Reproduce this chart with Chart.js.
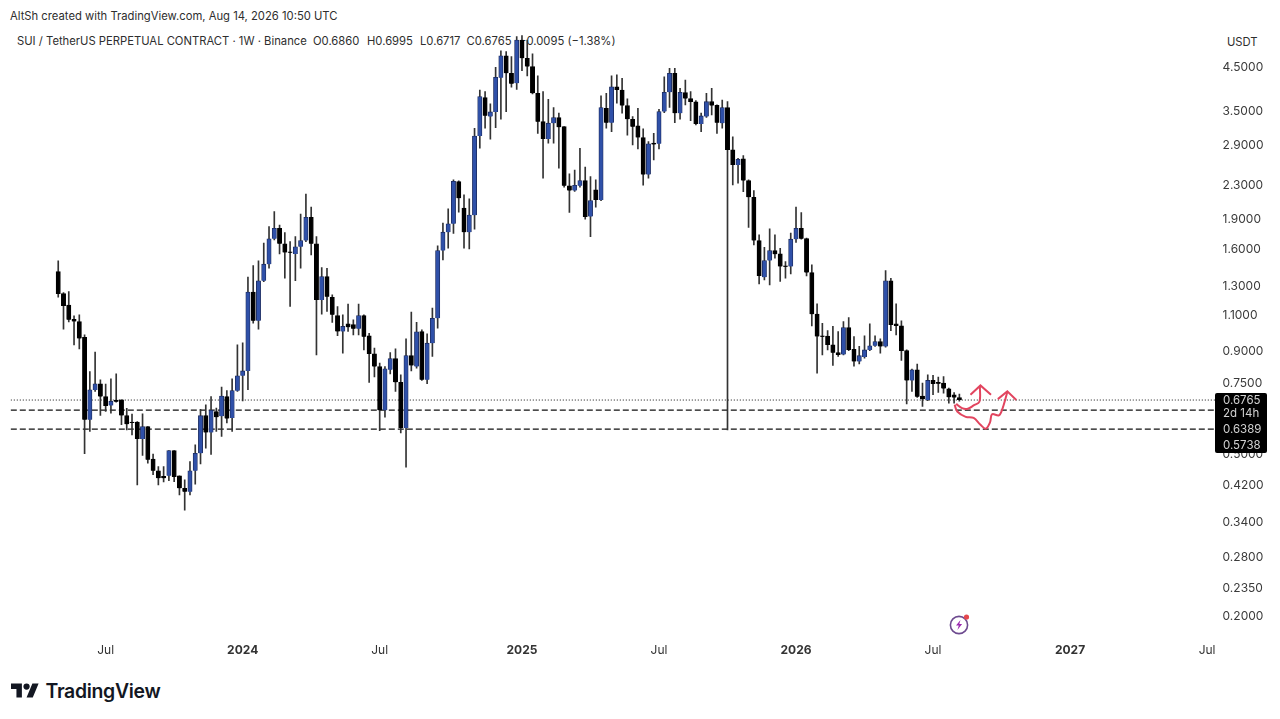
<!DOCTYPE html>
<html><head><meta charset="utf-8">
<style>
html,body{margin:0;padding:0;background:#fff;width:1280px;height:719px;overflow:hidden;font-family:Inter,"Noto Sans",sans-serif}
.t{position:absolute;white-space:pre;color:#2e2e2e;font-size:11.25px;line-height:14px}
#c{position:absolute;left:0;top:0;z-index:2}
#block{position:absolute;left:1215px;top:393px;width:52px;height:60px;background:#000;border-radius:2px;z-index:3}
.p{position:absolute;left:1223px;color:#d2d2d2;font-size:11.5px;line-height:14px;z-index:4;white-space:pre}
svg{position:absolute;z-index:3}
</style></head><body>
<div class="t" style="left:10px;top:8.5px">AltSh created with TradingView.com, Aug 14, 2026 10:50 UTC</div>
<div class="t" style="left:17px;top:33.5px">SUI / TetherUS PERPETUAL CONTRACT · 1W · Binance</div>
<div class="t" style="left:313px;top:33.5px">O0.6860</div>
<div class="t" style="left:367px;top:33.5px">H0.6995</div>
<div class="t" style="left:420px;top:33.5px">L0.6717</div>
<div class="t" style="left:466.5px;top:33.5px">C0.6765</div>
<div class="t" style="left:519px;top:33.5px">−0.0095 (−1.38%)</div>
<div class="t" style="left:1227px;top:34.5px">USDT</div>
<canvas id="c" width="1280" height="719"></canvas>
<div id="block"></div>
<div class="p" style="top:393px">0.6765</div>
<div class="p" style="top:406px">2d 14h</div>
<div class="p" style="top:422px">0.6389</div>
<div class="p" style="top:438px">0.5738</div>
<svg style="left:11px;top:683px" width="28" height="15" viewBox="0 3.5 36 19"><path fill="#131722" d="M14 22H7V11H0V4h14v18zM28 22h-8l7.5-18h8L28 22z"/><circle fill="#131722" cx="20" cy="8" r="4"/></svg>
<div class="t" style="left:45.5px;top:679px;font-size:19.4px;line-height:24px;font-weight:600;color:#131722;letter-spacing:-.3px">TradingView</div>
<svg style="left:947px;top:612px" width="26" height="26" viewBox="0 0 26 26"><circle cx="12" cy="13" r="8.6" fill="none" stroke="#6d4a8f" stroke-width="1.6"/><path d="M13.5 8L9 13.6h2.8L10.4 18l4.7-6h-2.8z" fill="#9c27b0"/><circle cx="19.5" cy="5" r="2.6" fill="#e5484d"/></svg>
<script src="https://cdn.jsdelivr.net/npm/chart.js@4/dist/chart.umd.min.js"></script>
<script>
const opens=[1.402,1.238,1.159,1.070,1.056,.965,.605,.716,.742,.690,
.656,.676,.677,.619,.597,.597,.542,.582,.484,.453,
.439,.440,.508,.440,.410,.402,.453,.500,.619,.563,
.634,.617,.690,.611,.713,.776,.798,1.248,1.060,1.330,
1.462,1.688,1.793,1.642,1.568,1.550,1.614,1.672,1.908,1.642,
1.194,1.363,1.211,1.092,.998,1.043,1.038,1.013,1.092,.974,
.879,.818,.638,.803,.856,.748,.577,.871,.818,.998,
.759,.934,1.076,1.579,1.753,1.838,2.336,2.009,1.753,1.933,
3.025,3.761,3.378,3.468,4.211,4.765,4.319,4.083,5.215,4.702,
4.484,3.856,3.282,2.975,3.253,3.358,3.19,2.28,2.22,2.28,
2.349,1.915,2.228,2.105,3.54,3.263,4.0,3.928,3.594,3.326,
3.204,3.0,2.43,2.904,2.893,3.474,3.878,4.319,3.443,3.87,
3.74,3.67,3.24,3.378,3.675,3.60,3.253,3.556,2.795,2.568,
2.656,2.349,2.137,1.672,1.358,1.492,1.579,1.55,1.446,1.443,
1.685,1.793,1.69,1.394,1.101,.972,.972,.925,.885,.876,
1.02,.902,.842,.864,.899,.92,.943,.917,1.331,1.043,
1.03,.895,.756,.803,.692,.677,.756,.748,.745,.721,
.697,.686];
const closes=[1.234,1.154,1.066,1.056,.959,.605,.717,.742,.690,.654,
.672,.670,.620,.590,.594,.542,.582,.482,.453,.434,
.434,.508,.437,.410,.402,.453,.500,.619,.563,.638,
.614,.692,.609,.714,.776,.798,1.248,1.060,1.330,1.462,
1.688,1.793,1.642,1.562,1.559,1.614,1.672,1.908,1.642,1.194,
1.363,1.216,1.097,.998,1.027,1.023,1.013,1.092,.968,.879,
.818,.638,.808,.856,.748,.577,.871,.823,.996,.759,
.934,1.076,1.579,1.753,1.838,2.34,2.126,1.753,1.933,3.025,
3.783,3.391,3.468,4.222,4.765,4.319,4.066,5.215,4.702,4.484,
3.856,3.282,2.975,3.253,3.358,3.179,2.28,2.22,2.286,2.349,
1.915,2.097,2.105,3.556,3.263,4.0,3.928,3.594,3.326,3.19,
3.0,2.43,2.893,2.887,3.474,3.878,4.319,3.443,3.878,3.74,
3.67,3.24,3.39,3.675,3.594,3.263,3.556,2.795,2.568,2.651,
2.349,2.137,1.672,1.368,1.492,1.579,1.547,1.443,1.44,1.685,
1.793,1.69,1.394,1.101,.970,.968,.925,.885,.874,1.02,
.899,.842,.87,.899,.92,.943,.917,1.331,1.036,1.03,
.894,.756,.803,.689,.68,.756,.741,.742,.722,.687,
.686,.6765];
const highs=[1.490,1.245,1.252,1.091,1.097,.979,.795,.888,.759,.741,
.763,.785,.677,.645,.625,.599,.626,.582,.498,.464,
.464,.508,.508,.440,.430,.477,.525,.642,.658,.690,
.646,.728,.714,.763,.925,.936,1.358,1.451,1.490,1.648,
1.810,1.970,1.826,1.749,1.662,1.709,1.943,2.176,2.020,1.709,
1.435,1.429,1.229,1.150,1.097,1.166,1.066,1.166,1.097,.988,
.908,.834,.818,.886,.904,.781,.957,1.114,1.052,1.007,
.985,1.139,1.622,1.845,2.000,2.358,2.345,2.166,2.117,3.161,
3.928,3.891,3.633,4.468,4.905,4.882,4.747,5.314,5.345,5.215,
4.82,4.253,3.891,3.726,3.556,3.443,3.19,2.44,2.495,2.822,
2.535,2.403,2.358,3.798,3.856,4.253,4.28,4.198,3.733,3.378,
3.54,3.15,2.93,3.07,3.52,4.234,4.44,4.44,3.967,4.157,
3.891,3.70,3.443,3.856,3.967,3.61,3.711,3.675,3.01,2.667,
2.707,2.358,2.219,1.727,1.608,1.786,1.727,1.60,1.484,1.745,
2.02,1.96,1.695,1.457,1.167,1.046,1.003,1.027,.998,1.056,
1.08,.97,.917,.974,1.043,.974,.957,1.41,1.35,1.167,
1.06,.899,.806,.83,.745,.781,.778,.771,.773,.724,
.706,.6995];
const lows=[1.213,1.011,1.054,.925,.904,.499,.566,.710,.620,.634,
.628,.668,.588,.571,.555,.418,.494,.473,.443,.418,
.425,.428,.426,.395,.362,.395,.420,.471,.515,.497,
.566,.550,.594,.566,.710,.673,.717,1.046,1.011,1.324,
1.429,1.678,1.550,1.350,1.150,1.331,1.429,1.662,1.541,.874,
1.101,1.118,1.050,.975,.883,.998,.979,.979,.899,.748,
.771,.569,.614,.785,.710,.561,.462,.798,.811,.756,
.742,.866,1.017,1.498,1.600,1.740,1.963,1.600,1.594,1.783,
2.822,3.161,2.970,3.172,3.326,3.474,3.990,3.942,4.38,4.253,
3.84,3.07,2.381,2.904,2.904,2.522,2.263,1.96,2.21,2.263,
1.886,1.709,2.02,2.097,3.161,3.10,3.645,3.443,3.04,2.876,
2.81,2.29,2.38,2.641,2.81,3.455,3.56,3.263,3.326,3.61,
3.30,3.22,3.10,3.36,3.41,3.07,3.161,.571,2.293,2.315,
2.206,1.80,1.63,1.307,1.337,1.30,1.512,1.325,1.35,1.384,
1.654,1.685,1.368,1.03,.788,.874,.899,.823,.866,.874,
.895,.82,.83,.858,.895,.917,.883,.913,1.003,.979,
.847,.662,.710,.687,.652,.674,.697,.706,.703,.665,
.665,.6717];
const priceTicks=[4.5,3.5,2.9,2.3,1.9,1.6,1.3,1.1,.9,.75,.5,.42,.34,.28,.235,.2];
const timeTickWeeks=["2023-07-03","2024-01-01","2024-07-01","2025-01-06","2025-07-07","2026-01-05","2026-07-06","2027-01-04","2027-07-05"];
const timeTickLabels=["Jul","2024","Jul","2025","Jul","2026","Jul","2027","Jul"];
const lastClose=0.6765, supportA=0.6389, supportB=0.5738;
const firstWeek="2023-02-27", firstCandleIndex=9, weekCount=230;
const priceMax=5.457, priceMin=0.1764;
// hand-drawn red arrows: week position on the axis, price
const arrowAWeek=[179.4,180.5,181.6,182.7,183.8,183.9], arrowAPrice=[.662,.646,.644,.656,.670,.731];
const headAWeek=[182.1,184.0,186.0], headAPrice=[.697,.735,.697];
const arrowBWeek=[179.1,179.6,181.2,182.7,184.0,185.0,185.8,186.2,187.5,188.1,189.1], arrowBPrice=[.659,.634,.615,.611,.588,.575,.595,.624,.620,.640,.708];
const headBWeek=[187.3,189.1,190.8], headBPrice=[.680,.711,.677];

const categories=[];
for(let i=0;i<weekCount;i++){categories.push(new Date(Date.parse(firstWeek+"T00:00:00Z")+i*7*864e5).toISOString().slice(0,10));}
const at=(arr,f)=>categories.map((c,i)=>{const k=i-firstCandleIndex;return k>=0&&k<arr.length?f(k):null;});
const bodyData=at(opens,k=>[Math.min(opens[k],closes[k]),Math.max(opens[k],closes[k])]);
const wickData=at(opens,k=>[lows[k],highs[k]]);
const isUp=at(opens,k=>closes[k]>=opens[k]);
const pair=(xs,ys)=>xs.map((x,i)=>({x,y:ys[i]}));
const red="#e2455f";
const level=(v,dash,w)=>({type:"line",data:categories.map(()=>v),borderColor:"#111",borderWidth:w,borderDash:dash,pointRadius:0,order:3,xAxisID:"x",yAxisID:"y"});
const drawn=(xs,ys,t)=>({type:"line",data:pair(xs,ys),borderColor:red,borderWidth:2,tension:t,pointRadius:0,order:0,xAxisID:"xDraw",yAxisID:"y"});
new Chart(document.getElementById("c"),{
 type:"bar",
 data:{labels:categories,datasets:[
  {data:bodyData,grouped:false,barThickness:4.3,minBarLength:1,order:1,borderWidth:.8,
   backgroundColor:isUp.map(u=>u?"#2f50a8":"#000"),borderColor:isUp.map(u=>u?"#1b2a5c":"#000")},
  {data:wickData,grouped:false,barThickness:1,order:2,backgroundColor:"#333",borderWidth:0},
  level(lastClose,[1,2],1),level(supportA,[6,3],1.2),level(supportB,[6,3],1.2),
  drawn(arrowAWeek,arrowAPrice,.35),drawn(headAWeek,headAPrice,0),
  drawn(arrowBWeek,arrowBPrice,.35),drawn(headBWeek,headBPrice,0)
 ]},
 options:{responsive:false,animation:false,devicePixelRatio:1,
  layout:{padding:{left:10.8,right:0,top:32,bottom:0}},
  plugins:{legend:{display:false},tooltip:{enabled:false},title:{display:false}},
  scales:{
   x:{type:"category",offset:false,grid:{display:false,drawTicks:false},border:{display:false},
     afterFit(s){s.height=82;},
     ticks:{autoSkip:false,maxRotation:0,minRotation:0,padding:6,color:"#333",
       font:c=>({family:"Inter",size:12,weight:/^\d/.test(timeTickLabels[timeTickWeeks.indexOf(categories[c.index])]||"")?"700":"400"}),
       callback(v,i){const k=timeTickWeeks.indexOf(categories[i]);return k>=0?timeTickLabels[k]:"";}}},
   xDraw:{type:"linear",display:false,offset:false,min:0,max:weekCount-1,position:"bottom"},
   y:{type:"logarithmic",position:"right",min:priceMin,max:priceMax,grid:{display:false,drawTicks:false},border:{display:false},
     afterFit(s){s.width=1280-1217.6;},
     afterBuildTicks(s){s.ticks=priceTicks.map(v=>({value:v}));},
     ticks:{autoSkip:false,padding:5,labelOffset:1.5,color:"#3a3a3a",font:{family:"Inter",size:12},callback:v=>Number(v).toFixed(4)}}
  }
 }
});
</script>
</body></html>
